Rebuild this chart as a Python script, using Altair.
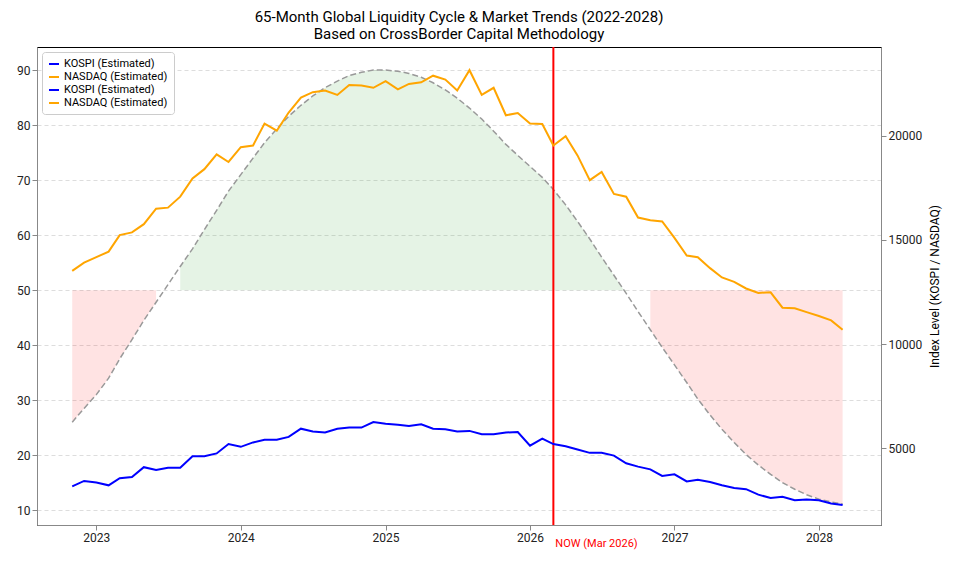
import altair as alt
import pandas as pd

months = pd.date_range("2022-11-01", "2028-03-01", freq="MS").strftime("%Y-%m-%d").tolist()

# liquidity cycle (left axis, 0-100 scale)
liquidity = [26, 28.5, 31, 34, 37.5, 41, 44.5, 47.8, 51, 54.3, 57.5, 61, 64.5, 68,
             71, 74, 76.8, 79.3, 81.6, 83.6, 85.3, 86.8, 88, 89, 89.6, 90,
             90, 89.8, 89.4, 88.7, 87.7, 86.4, 84.9, 83.1, 81.1, 78.9, 76.5, 74.5,
             72.5, 70.5, 68.3, 65.5, 62.5, 59.3, 56, 52.7, 49.4, 46.1, 42.8, 39.6,
             36.4, 33.2, 30.2, 27.3, 24.7, 22.3, 20.1, 18.2, 16.5, 15, 13.8, 12.8,
             12, 11.5, 11.1]

nasdaq = [13513, 13909, 14172, 14436, 15228, 15360, 15756, 16495, 16548, 17075,
          17946, 18395, 19107, 18738, 19450, 19530, 20585, 20242, 21113, 21826,
          22089, 22169, 21957, 22432, 22406, 22300, 22617, 22221, 22485, 22564,
          22881, 22696, 22169, 23145, 21957, 22300, 20981, 21086, 20585, 20559,
          19530, 19978, 19055, 17867, 18263, 17207, 17075, 16072, 15940, 15887,
          15096, 14251, 14172, 13645, 13196, 12985, 12668, 12457, 12484, 11745,
          11718, 11533, 11348, 11137, 10689]

kospi = [3168, 3432, 3353, 3221, 3564, 3616, 4091, 3959, 4065, 4065, 4619, 4619,
         4751, 5200, 5068, 5279, 5411, 5411, 5543, 5939, 5807, 5754, 5939, 5992,
         5992, 6255, 6176, 6123, 6071, 6150, 5939, 5912, 5807, 5833, 5675, 5675,
         5754, 5780, 5121, 5464, 5200, 5094, 4936, 4778, 4778, 4646, 4276, 4118,
         3986, 3669, 3748, 3405, 3484, 3379, 3221, 3089, 3036, 2772, 2614, 2666,
         2508, 2534, 2508, 2350, 2271]

series_keys = ["k1", "n1", "k2", "n2"]
series_colors = ["#0000ff", "#ffa500", "#0000ff", "#ffa500"]

df = pd.DataFrame({"date": months, "liq": liquidity, "base": 50})
idx = pd.DataFrame({"date": months * 2,
                    "value": kospi + nasdaq,
                    "series": ["k1"] * len(months) + ["n1"] * len(months)})

W, H = 844, 478
x = alt.X("date:T", scale=alt.Scale(domain=["2022-08-04", "2028-06-06"]),
          axis=alt.Axis(format="%Y", tickCount="year", grid=False, title=None,
                        labelFontSize=12, labelColor="#222"))
yl = alt.Scale(domain=[7.3, 94.2], nice=False, zero=False)
left_axis = alt.Axis(values=[10, 20, 30, 40, 50, 60, 70, 80, 90], title=None, grid=True,
                     gridDash=[4, 3], gridColor="#ddd", labelFontSize=12, labelColor="#222")

base = alt.Chart(df)
green = base.transform_filter("datetime(datum.date) >= datetime(2023,7,1) && datetime(datum.date) <= datetime(2026,8,1)").mark_area(
    color="#2ca02c", opacity=0.12).encode(x=x, y=alt.Y("liq:Q", scale=yl, axis=left_axis), y2="base:Q")
red1 = base.transform_filter("datetime(datum.date) <= datetime(2023,5,1)").mark_area(
    color="red", opacity=0.11).encode(x=x, y=alt.Y("liq:Q", scale=yl), y2="base:Q")
red2 = base.transform_filter("datetime(datum.date) >= datetime(2026,10,1)").mark_area(
    color="red", opacity=0.11).encode(x=x, y=alt.Y("liq:Q", scale=yl), y2="base:Q")
curve = base.mark_line(color="#999", strokeDash=[6, 3], strokeWidth=1.5).encode(
    x=x, y=alt.Y("liq:Q", scale=yl))
now = alt.Chart(pd.DataFrame({"date": ["2026-03-01"], "t": ["NOW (Mar 2026)"]}))
now_rule = now.mark_rule(color="red", strokeWidth=2).encode(x=x)
now_text = now.mark_text(color="red", fontSize=11, align="left", dx=2, font="Roboto").encode(
    x=x, y=alt.value(H + 19), text="t:N")

left = alt.layer(green, red1, red2, curve, now_rule, now_text)

lines = alt.Chart(idx).mark_line(strokeWidth=2).encode(
    x=x,
    y=alt.Y("value:Q", scale=alt.Scale(domain=[1316, 24258], nice=False, zero=False),
            axis=alt.Axis(orient="right", values=[5000, 10000, 15000, 20000], grid=False,
                          format="d", title="Index Level (KOSPI / NASDAQ)", titleFontSize=12,
                          titleAngle=270, titleBaseline="top", titlePadding=8,
                          titleFontWeight="normal", labelFontSize=12, labelColor="#222")),
    color=alt.Color("series:N", scale=alt.Scale(domain=series_keys, range=series_colors),
                    legend=alt.Legend(orient="top-left", title=None, symbolType="stroke",
                                      symbolStrokeWidth=2, labelFontSize=11,
                                      fillColor="white", strokeColor="#ccc", padding=6,
                                      cornerRadius=3, offset=5,
                                      labelExpr="datum.value[0]=='k' ? 'KOSPI (Estimated)' : 'NASDAQ (Estimated)'")),
)

chart = alt.layer(left, lines).resolve_scale(y="independent").properties(
    width=W, height=H,
    title=alt.Title(["65-Month Global Liquidity Cycle & Market Trends (2022-2028)",
                     "Based on CrossBorder Capital Methodology"],
                    fontSize=15, fontWeight="normal", font="Roboto", anchor="middle")
).configure(font="Roboto", padding={"left": 8, "top": 2, "right": 5, "bottom": 5}).configure_view(
    stroke="black", strokeWidth=1)

chart.save("out.html", embed_options={"renderer": "svg", "actions": False})
